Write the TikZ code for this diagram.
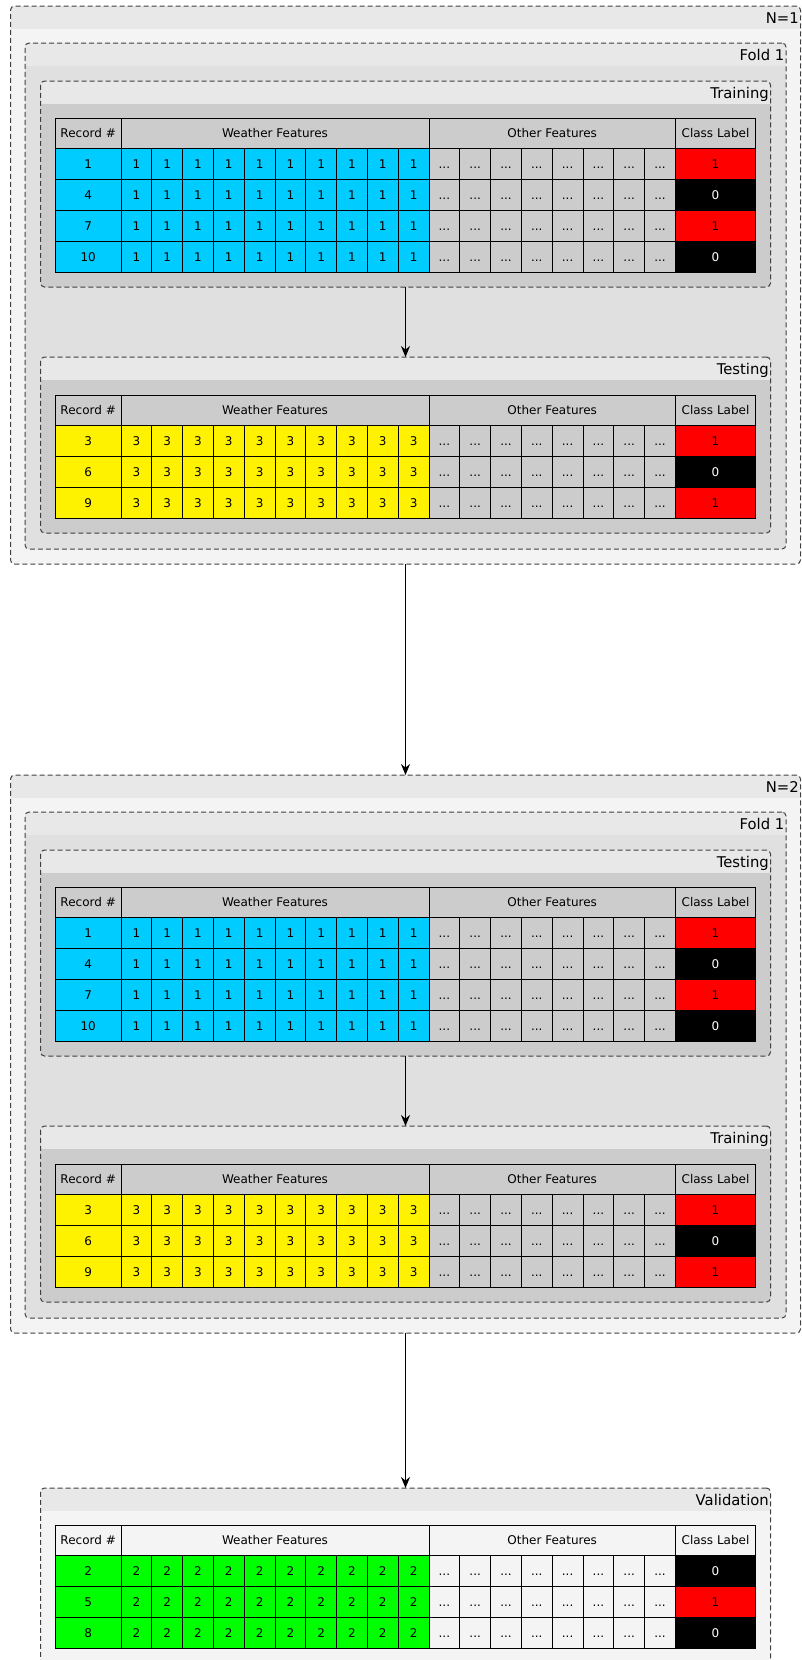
\documentclass[tikz,border=0pt]{standalone}
\usepackage{fontspec}
\setmainfont{DejaVu Sans}
\usetikzlibrary{arrows.meta}

\definecolor{bandgray}{HTML}{E8E8E8}
\definecolor{palegray}{HTML}{F4F4F4}
\definecolor{foldgray}{HTML}{E0E0E0}
\definecolor{setgray}{HTML}{CCCCCC}
\definecolor{edgegray}{HTML}{404040}
\definecolor{skyblue}{HTML}{00CCFF}
\definecolor{labfill0}{HTML}{000000}
\definecolor{labfill1}{HTML}{FF0000}
\definecolor{labtext0}{HTML}{FFFFFF}
\definecolor{labtext1}{HTML}{000000}

% one data table: name, top, row colour, grey fill, rows as record/value/label
\newcommand{\datatable}[5]{%
  \node[cell, fill=#4, minimum width=65.7pt] (#1-rec) at (55.3,#2) {Record \#};
  \node[cell, fill=#4, minimum width=308pt] (#1-wea) at (121,#2) {Weather Features};
  \node[cell, fill=#4, minimum width=246.4pt] (#1-oth) at (429,#2) {Other Features};
  \node[cell, fill=#4, minimum width=80.3pt] (#1-cls) at (675.4,#2) {Class Label};
  \foreach \rec/\val/\lab [count=\ri] in {#5} {
    \node[cell, fill=#3, minimum width=65.7pt] (#1-\ri-rec) at (55.3,#2+\ri*30.8) {\rec};
    \foreach \ci in {1,...,10}
      \node[cell, fill=#3] (#1-\ri-w\ci) at (90.2+\ci*30.8,#2+\ri*30.8) {\val};
    \foreach \ci in {1,...,8}
      \node[cell, fill=#4] (#1-\ri-o\ci) at (398.2+\ci*30.8,#2+\ri*30.8) {.{}.{}.};
    \node[cell, fill=labfill\lab, text=labtext\lab, minimum width=80.3pt] (#1-\ri-lab) at (675.4,#2+\ri*30.8) {\lab};
  }%
}

\begin{document}
\begin{tikzpicture}[x=1pt, y=-1pt,
    cluster/.style={draw=edgegray, line width=1pt, dash pattern=on 5pt off 3pt, rounded corners=4pt,
      anchor=north west, inner sep=0pt, outer sep=0pt,
      path picture={\fill[bandgray, sharp corners] (path picture bounding box.north west) rectangle ([yshift=-23pt]path picture bounding box.north east);}},
    clustertitle/.style={anchor=base east, inner sep=0pt, xshift=-1.5pt, yshift=-17pt, font=\fontsize{14.8}{17}\selectfont},
    cell/.style={draw, line width=1pt, anchor=north west, minimum width=30.8pt, minimum height=30.8pt,
      inner sep=0pt, outer sep=0pt, text height=8.8pt, text depth=0pt, font=\fontsize{12}{14}\selectfont},
    flow/.style={-{Stealth[length=11pt, width=9pt]}, line width=1pt}]

    \useasboundingbox (0,0) rectangle (801,1660);

    % First run
    \node[cluster, fill=palegray, minimum width=790pt, minimum height=558pt] (n1) at (10.5,6) {};
    \node[clustertitle] (n1-t) at (n1.north east) {N=1};
    \node[cluster, fill=foldgray, minimum width=761pt, minimum height=506pt] (f1) at (25,43) {};
    \node[clustertitle] (f1-t) at (f1.north east) {Fold 1};
    \node[cluster, fill=setgray, minimum width=730pt, minimum height=206pt] (trn1) at (40.5,81) {};
    \node[clustertitle] (trn1-t) at (trn1.north east) {Training};
    \node[cluster, fill=setgray, minimum width=730pt, minimum height=176pt] (tst1) at (40.5,357) {};
    \node[clustertitle] (tst1-t) at (tst1.north east) {Testing};
    \datatable{t1}{118}{skyblue}{setgray}{1/1/1, 4/1/0, 7/1/1, 10/1/0}
    \datatable{t2}{395}{yellow}{setgray}{3/3/1, 6/3/0, 9/3/1}

    % Second run
    \node[cluster, fill=palegray, minimum width=790pt, minimum height=558pt] (n2) at (10.5,775) {};
    \node[clustertitle] (n2-t) at (n2.north east) {N=2};
    \node[cluster, fill=foldgray, minimum width=761pt, minimum height=506pt] (f2) at (25,812) {};
    \node[clustertitle] (f2-t) at (f2.north east) {Fold 1};
    \node[cluster, fill=setgray, minimum width=730pt, minimum height=206pt] (tst2) at (40.5,850) {};
    \node[clustertitle] (tst2-t) at (tst2.north east) {Testing};
    \node[cluster, fill=setgray, minimum width=730pt, minimum height=176pt] (trn2) at (40.5,1126) {};
    \node[clustertitle] (trn2-t) at (trn2.north east) {Training};
    \datatable{t3}{887}{skyblue}{setgray}{1/1/1, 4/1/0, 7/1/1, 10/1/0}
    \datatable{t4}{1164}{yellow}{setgray}{3/3/1, 6/3/0, 9/3/1}

    % Validation set
    \node[cluster, fill=palegray, minimum width=730pt, minimum height=176pt] (val) at (40.5,1488) {};
    \node[clustertitle] (val-t) at (val.north east) {Validation};
    \datatable{t5}{1525}{green}{palegray}{2/2/0, 5/2/1, 8/2/0}

    % Connect the boxes
    \draw[flow] (trn1) -- (tst1);
    \draw[flow] (n1) -- (n2);
    \draw[flow] (tst2) -- (trn2);
    \draw[flow] (n2) -- (val);
\end{tikzpicture}
\end{document}
